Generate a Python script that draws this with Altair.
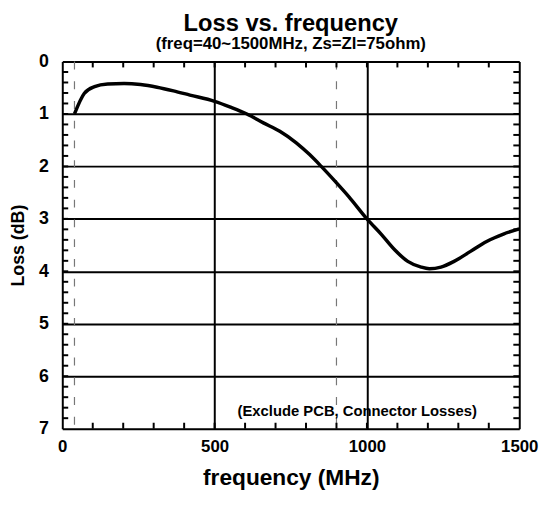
import altair as alt
import pandas as pd

freq = [40, 72, 106, 149, 203, 257, 311, 365, 419, 500, 552, 606, 660, 714, 768,
        811, 850, 898, 941, 1000, 1048, 1091, 1134, 1178, 1205, 1243, 1286, 1340, 1393,
        1448, 1500]
loss = [1.0, 0.61, 0.48, 0.43, 0.42, 0.44, 0.49, 0.56, 0.64, 0.76, 0.87, 1.0,
        1.17, 1.33, 1.55, 1.77, 2.0, 2.3, 2.58, 3.0, 3.3, 3.59, 3.81, 3.92, 3.95, 3.92,
        3.81, 3.62, 3.43, 3.29, 3.19]
band_edges = [40, 900]
x_ticks = [0, 500, 1000, 1500]
y_ticks = [0, 1, 2, 3, 4, 5, 6, 7]
x_minor = list(range(100, 1500, 100))
y_minor = [round(0.2 * i, 1) for i in range(1, 35)]
note = ["(Exclude PCB, Connector Losses)"]
note_x = [968]
note_y = [6.66]

W, H = 463, 372
FONT = "Liberation Sans"

xs = alt.Scale(domain=[0, 1500], nice=False)
ys = alt.Scale(domain=[0, 7], reverse=True, nice=False)

df = pd.DataFrame({"f": freq, "L": loss})
xm = pd.DataFrame({"f": x_minor})
ym = pd.DataFrame({"L": y_minor})
be = pd.DataFrame({"f": band_edges})
nt = pd.DataFrame({"t": note, "f": note_x, "L": note_y})

xaxis = alt.Axis(values=x_ticks, format="d", title="frequency (MHz)", grid=True,
                 gridColor="black", gridWidth=2, gridOpacity=1, domain=False, ticks=False,
                 labelPadding=10, labelFontSize=17, labelFontWeight="bold", labelFont=FONT,
                 labelColor="black", titleFontSize=23, titleFontWeight="bold",
                 titleFont=FONT, titleColor="black", titlePadding=13, labelFlush=False)
yaxis = alt.Axis(values=y_ticks, format="d", title="Loss (dB)", grid=True,
                 gridColor="black", gridWidth=2, gridOpacity=1, domain=False, ticks=False,
                 labelPadding=14, labelFontSize=18, labelFontWeight="bold", labelFont=FONT,
                 labelColor="black", titleFontSize=18, titleFontWeight="bold",
                 titleFont=FONT, titleColor="black", titlePadding=11)

line = alt.Chart(df).mark_line(color="black", strokeWidth=3.5, interpolate="monotone").encode(
    x=alt.X("f:Q", scale=xs, axis=xaxis),
    y=alt.Y("L:Q", scale=ys, axis=yaxis),
)

dashed = alt.Chart(be).mark_rule(color="#777777", strokeWidth=1.2, strokeDash=[8, 12]).encode(
    x=alt.X("f:Q", scale=xs)
)

tick_style = dict(color="black", strokeWidth=2)
top_t = alt.Chart(xm).mark_rule(**tick_style).encode(
    x=alt.X("f:Q", scale=xs), y=alt.value(0), y2=alt.value(6))
bot_t = alt.Chart(xm).mark_rule(**tick_style).encode(
    x=alt.X("f:Q", scale=xs), y=alt.value(H - 6), y2=alt.value(H))
left_t = alt.Chart(ym).mark_rule(**tick_style).encode(
    y=alt.Y("L:Q", scale=ys), x=alt.value(0), x2=alt.value(6))
right_t = alt.Chart(ym).mark_rule(**tick_style).encode(
    y=alt.Y("L:Q", scale=ys), x=alt.value(W - 6), x2=alt.value(W))

text = alt.Chart(nt).mark_text(font=FONT, fontSize=15, fontWeight="bold", color="black").encode(
    x=alt.X("f:Q", scale=xs), y=alt.Y("L:Q", scale=ys), text="t:N")

chart = alt.layer(dashed, top_t, bot_t, left_t, right_t, line, text).properties(
    width=W, height=H,
    autosize=alt.AutoSizeParams(type="none"),
    padding={"left": 55, "top": 51, "right": 20, "bottom": 64},
    title=alt.TitleParams("Loss vs. frequency",
                          subtitle="(freq=40~1500MHz, Zs=Zl=75ohm)",
                          font=FONT, fontSize=24, fontWeight="bold", color="black",
                          subtitleFont=FONT, subtitleFontSize=17, subtitleFontWeight="bold",
                          subtitleColor="black", subtitlePadding=0, offset=1, anchor="middle"),
).configure_view(stroke="black", strokeWidth=3).configure(background="white")

chart.save("out.html", embed_options={"renderer": "svg", "actions": False})
